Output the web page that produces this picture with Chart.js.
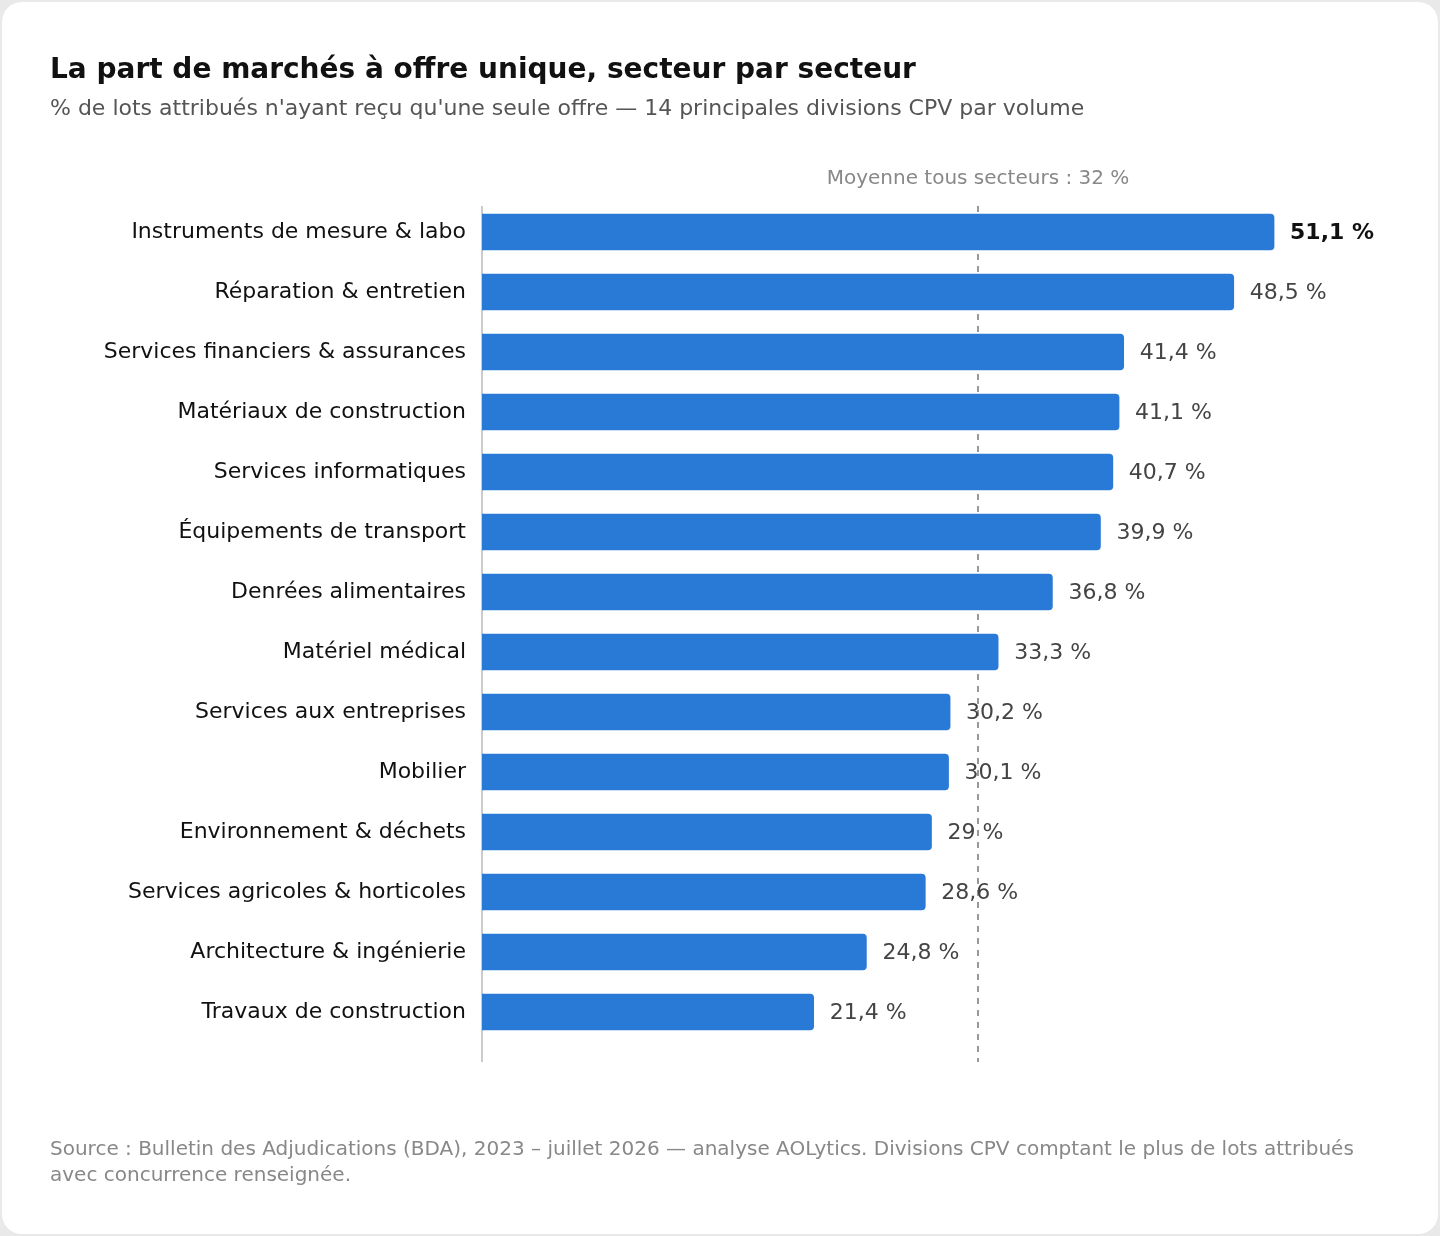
<!DOCTYPE html>
<html><head><meta charset="utf-8">
<script src="https://cdn.jsdelivr.net/npm/chart.js@4"></script>
<style>
html,body{margin:0;padding:0;background:#e9e9e9;font-family:"DejaVu Sans",sans-serif;}
#card{position:absolute;left:2px;top:2px;width:1436px;height:1232px;background:#fff;border-radius:20px;overflow:hidden;}
#c{position:absolute;left:-2px;top:-2px;}
.t{position:absolute;left:48px;white-space:nowrap;}
</style></head><body>
<div id="card">
<canvas id="c" width="1440" height="1236"></canvas>
<div class="t" style="top:50px;font-size:28px;font-weight:bold;color:#111">La part de marchés à offre unique, secteur par secteur</div>
<div class="t" style="top:93px;font-size:22px;color:#555">% de lots attribués n'ayant reçu qu'une seule offre — 14 principales divisions CPV par volume</div>
<div class="t" style="top:1133px;font-size:20px;color:#888;line-height:26px;white-space:normal;width:1340px">Source : Bulletin des Adjudications (BDA), 2023 – juillet 2026 — analyse AOLytics. Divisions CPV comptant le plus de lots attribués avec concurrence renseignée.</div>
</div>
<script>
const categories=["Instruments de mesure & labo","Réparation & entretien","Services financiers & assurances","Matériaux de construction","Services informatiques","Équipements de transport","Denrées alimentaires","Matériel médical","Services aux entreprises","Mobilier","Environnement & déchets","Services agricoles & horticoles","Architecture & ingénierie","Travaux de construction"];
const values=[51.1,48.5,41.4,41.1,40.7,39.9,36.8,33.3,30.2,30.1,29,28.6,24.8,21.4];
const average=32;
const avgLabel="Moyenne tous secteurs : 32 %";
const fmt=v=>String(v).replace('.',',')+' %';
const extras={id:'extras',
 beforeDatasetsDraw(ch){const {ctx,scales:{x}}=ch;const top=206,bot=1062;
  ctx.save();ctx.strokeStyle='#bbb';ctx.lineWidth=1.5;ctx.beginPath();ctx.moveTo(x.left,top);ctx.lineTo(x.left,bot);ctx.stroke();
  const ax=x.getPixelForValue(average);ctx.strokeStyle='#777';ctx.setLineDash([6,6]);ctx.beginPath();ctx.moveTo(ax,top);ctx.lineTo(ax,bot);ctx.stroke();
  ctx.setLineDash([]);ctx.fillStyle='#888';ctx.font='20px "DejaVu Sans"';ctx.textAlign='center';ctx.textBaseline='middle';ctx.fillText(avgLabel,ax,179);ctx.restore();},
 afterDatasetsDraw(ch){const {ctx}=ch;const m=ch.getDatasetMeta(0);ctx.save();ctx.textBaseline='middle';ctx.textAlign='left';
  m.data.forEach((b,i)=>{ctx.font=(i===0?'bold ':'')+'22px "DejaVu Sans"';ctx.fillStyle=i===0?'#111':'#444';ctx.fillText(fmt(values[i]),b.x+16,b.y+1);});ctx.restore();}};
new Chart(document.getElementById('c'),{type:'bar',
 data:{labels:categories,datasets:[{data:values,backgroundColor:'#2979d6',barThickness:36,borderRadius:4,borderSkipped:'start'}]},
 options:{indexAxis:'y',responsive:false,animation:false,
  layout:{padding:{top:202,bottom:194,right:28}},
  plugins:{legend:{display:false},tooltip:{enabled:false}},
  scales:{x:{display:false,min:0,max:60},
   y:{afterFit(s){s.width=482;},grid:{display:false,drawTicks:false},border:{display:false},
    ticks:{padding:16,color:'#111',font:{size:22,family:'DejaVu Sans'}}}}},
 plugins:[extras]});
</script></body></html>
